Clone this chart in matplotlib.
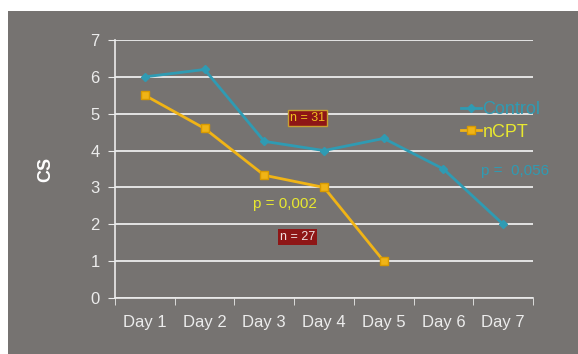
import matplotlib.pyplot as plt
import matplotlib.patches as mpatches
import numpy as np

plt.rcParams['font.family'] = ['Liberation Sans', 'DejaVu Sans']

days = ['Day 1', 'Day 2', 'Day 3', 'Day 4', 'Day 5', 'Day 6', 'Day 7']
control = [6.0, 6.2, 4.25, 4.0, 4.33, 3.5, 2.0]
ncpt = [5.5, 4.6, 3.33, 3.0, 1.0]

bg = '#767371'
teal = '#2f9bb3'
gold = '#f0b416'
yellow = '#e8e830'
white = '#ececec'

fig = plt.figure(figsize=(5.78, 3.54), dpi=100)
fig.patch.set_facecolor('white')
# grey panel, leaving a thin white border top and left
fig.add_artist(mpatches.Rectangle((8 / 578, 0), 1, 1 - 11 / 354,
                                  transform=fig.transFigure, facecolor=bg,
                                  edgecolor='none', zorder=0))

ax = fig.add_axes([115 / 578, 1 - 298 / 354, 418 / 578, 258 / 354])
ax.set_facecolor('none')

x = np.arange(len(days))
ax.plot(x, control, color=teal, marker='D', markersize=4, linewidth=2,
        label='Control', zorder=3)
ax.plot(x[:len(ncpt)], ncpt, color=gold, marker='s', markersize=6,
        markeredgecolor='#d89a00', linewidth=2, label='nCPT', zorder=3)

ax.set_xlim(-0.5, len(days) - 0.5)
ax.set_ylim(0, 7)
ax.set_yticks(range(8))
ax.set_xticks(x)
ax.set_xticklabels(days)
ax.set_xticks(np.arange(-0.5, len(days)), minor=True)
ax.tick_params(axis='x', which='major', length=0, pad=12, labelsize=12, colors=white)
ax.tick_params(axis='x', which='minor', length=5, color=white, direction='out')
ax.tick_params(axis='y', length=5, color=white, labelsize=12, colors=white, pad=6)
ax.grid(axis='y', color=white, linewidth=1.3)
for side in ['top', 'right']:
    ax.spines[side].set_visible(False)
for side in ['left', 'bottom']:
    ax.spines[side].set_color(white)
    ax.spines[side].set_linewidth(1.2)

ax.set_ylabel('CS', color='white', fontsize=13, fontweight='bold', labelpad=26)

leg = ax.legend(loc='upper left', bbox_to_anchor=(0.81, 0.79), frameon=False,
                fontsize=13, handlelength=1.1, handletextpad=0.1,
                borderaxespad=0, labelspacing=0.3)
for txt, col in zip(leg.get_texts(), [teal, yellow]):
    txt.set_color(col)

ax.text(2.72, 4.88, 'n = 31', color='#f0c020', fontsize=9, ha='center', va='center',
        bbox=dict(boxstyle='square,pad=0.15', facecolor='#8e1616', edgecolor='#c8a030'))
ax.text(2.55, 1.65, 'n = 27', color='#f0e0e0', fontsize=9, ha='center', va='center',
        bbox=dict(boxstyle='square,pad=0.15', facecolor='#8e1616', edgecolor='none'))
ax.text(2.35, 2.55, 'p = 0,002', color=yellow, fontsize=11, ha='center', va='center')
ax.text(6.2, 3.45, 'p =  0,056', color=teal, fontsize=11, ha='center', va='center')

fig.savefig('out.png', dpi=100, facecolor=fig.get_facecolor())
